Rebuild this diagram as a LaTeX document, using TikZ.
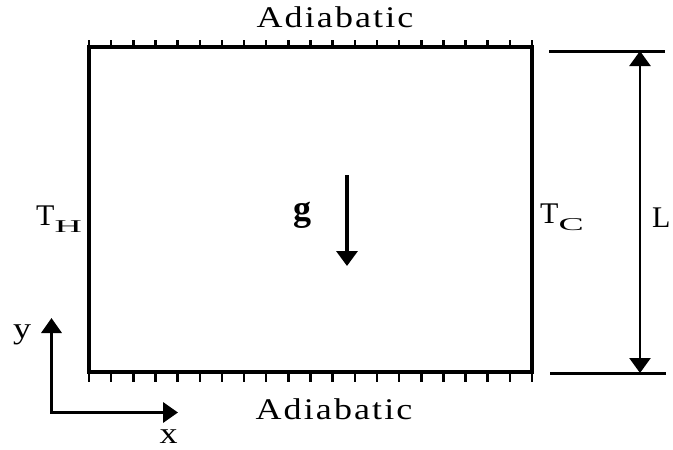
\documentclass[tikz,border=0pt]{standalone}
\usepackage{fontspec}
\setmainfont{Liberation Serif}
\newfontfamily\subfont[FakeStretch=2.1]{Liberation Serif}
\newfontfamily\widefont[FakeStretch=1.2]{Liberation Serif}
\usetikzlibrary{arrows.meta}
\newcommand{\Tsub}[2]{#1{\subfont\fontsize{18}{20}\selectfont\raisebox{-7pt}{#2}}}

\begin{document}
\begin{tikzpicture}[x=1pt,y=-1pt,
  every node/.style={font=\fontsize{30}{36}\selectfont,inner sep=0pt},
  wall/.style={line width=3.5pt},
  hatch/.style={line width=2.5pt},
  arr/.style={-{Triangle[length=15pt,width=21pt]},line width=3.5pt},
  axarr/.style={{Triangle[length=15pt,width=20pt]}-{Triangle[length=15pt,width=20pt]},line width=3.5pt},
  dimline/.style={line width=3pt},
  dimarr/.style={{Triangle[length=15pt,width=21pt]}-{Triangle[length=15pt,width=21pt]},line width=2.5pt},
  wide/.style={font=\widefont\fontsize{30}{36}\selectfont},
  adia/.style={anchor=base,font=\widefont\fontsize{30}{36}\selectfont\addfontfeature{LetterSpace=7}}]
\useasboundingbox (0,0) rectangle (673,450);
% cavity with adiabatic walls
\coordinate (sw) at (89,372); \coordinate (ne) at (532,47);
\draw[wall] (sw) rectangle (ne);
\foreach \k in {0,...,20} {
  \draw[hatch] ({89+22.15*\k},47) -- ++(0,-7);
  \draw[hatch] ({89+22.15*\k},372) -- ++(0,10);
}
\node[adia] (adtop) at (335,27) {Adiabatic};
\node[adia] (adbot) at (334,419) {Adiabatic};
\node[anchor=base west] (TH) at (36,225) {\Tsub{T}{H}};
\node[anchor=base west] (TC) at (540,223) {\Tsub{T}{C}};
% gravity
\coordinate (gtop) at (347,175); \coordinate (gbot) at (347,266);
\draw[arr] (gtop) -- (gbot);
\node[anchor=base,font=\fontsize{36}{40}\selectfont\bfseries] (g) at (302,220) {g};
% dimension L
\coordinate (Ltop) at (640,51); \coordinate (Lbot) at (640,373);
\draw[dimline] (549,51) -- (665,51);
\draw[dimline] (550,373) -- (666,373);
\draw[dimarr] (Ltop) -- (Lbot);
\node[anchor=base west] (Llbl) at (652,227) {L};
% axes
\coordinate (org) at (51.5,412.5); \coordinate (ytip) at (51.5,318); \coordinate (xtip) at (178,412.5);
\draw[axarr] (ytip) -- (org) -- (xtip);
\node[anchor=base,wide] (ylbl) at (22,338) {y};
\node[anchor=base,wide] (xlbl) at (168.5,443) {x};
\end{tikzpicture}
\end{document}
